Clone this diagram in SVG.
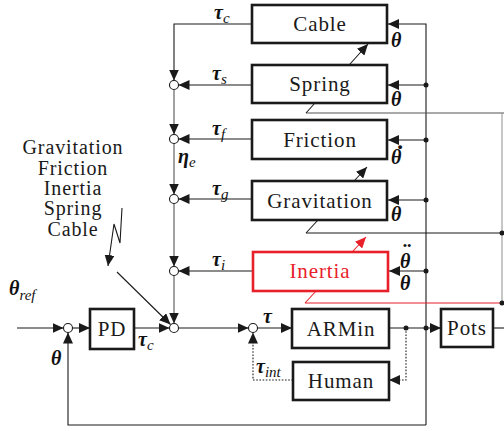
<svg xmlns="http://www.w3.org/2000/svg" width="504" height="431" viewBox="0 0 504 431">
<defs>
<marker id="ah" markerUnits="userSpaceOnUse" markerWidth="11" markerHeight="10" refX="11" refY="5" orient="auto"><path d="M0,0 L11,5 L0,10 z" fill="#1a1a1a"/></marker>
<marker id="ahr" markerUnits="userSpaceOnUse" markerWidth="11" markerHeight="10" refX="11" refY="5" orient="auto"><path d="M0,0 L11,5 L0,10 z" fill="#e8202a"/></marker>
<style>
.box{fill:#fff;stroke:#1a1a1a;stroke-width:2.6}
.red{stroke:#e8202a}
.ln{fill:none;stroke:#1a1a1a;stroke-width:1.1}
.gl{fill:none;stroke:#555;stroke-width:1.1}
.rl{fill:none;stroke:#e8202a;stroke-width:1.1}
.dot{fill:none;stroke:#1a1a1a;stroke-width:1.1;stroke-dasharray:1.6,1.6}
.sum{fill:#fff;stroke:#1a1a1a;stroke-width:1.1}
.jn{fill:#1a1a1a}
.t{font-size:21px;letter-spacing:0.9px;fill:#1a1a1a;text-anchor:middle;dominant-baseline:central}
.lt{font-size:20px;letter-spacing:0.9px;fill:#1a1a1a;text-anchor:middle}
.m{font-weight:bold;font-style:italic;font-size:20px;fill:#111}
.s{font-style:italic;font-weight:normal;font-size:15px}
.acc{font-weight:bold;font-size:26px;fill:#111;text-anchor:middle}
</style>
</defs>

<g id="connectors">
  <path class="ln" d="M252,24 H174 V80.5" marker-end="url(#ah)"/>
  <path class="ln" d="M252,85 H178.5" marker-end="url(#ah)"/>
  <path class="ln" d="M252,139 H178.5" marker-end="url(#ah)"/>
  <path class="ln" d="M252,199 H178.5" marker-end="url(#ah)"/>
  <path class="ln" d="M253,271 H178.5" marker-end="url(#ah)"/>
  <path class="gl" d="M174,89.5 V134.5" marker-end="url(#ah)"/>
  <path class="gl" d="M174,143.5 V194.5" marker-end="url(#ah)"/>
  <path class="gl" d="M174,203.5 V266.5" marker-end="url(#ah)"/>
  <path class="gl" d="M174,275.5 V323.5" marker-end="url(#ah)"/>
  <path class="ln" d="M17,328 H63.5" marker-end="url(#ah)"/>
  <path class="ln" d="M72.5,328 H90" marker-end="url(#ah)"/>
  <path class="ln" d="M134,328 H169.5" marker-end="url(#ah)"/>
  <path class="ln" d="M178.5,328 H248.5" marker-end="url(#ah)"/>
  <path class="ln" d="M257.5,328 H292" marker-end="url(#ah)"/>
  <path class="ln" d="M389,328 H441" marker-end="url(#ah)"/>
  <path class="ln" d="M493,328 H504"/>
  <path class="ln" d="M426,425 V24 H388" marker-end="url(#ah)"/>
  <path class="ln" d="M426,425 H68 V332.5" marker-end="url(#ah)"/>
  <path class="ln" d="M426,85 H388" marker-end="url(#ah)"/>
  <path class="ln" d="M426,140 H388" marker-end="url(#ah)"/>
  <path class="ln" d="M426,200 H388" marker-end="url(#ah)"/>
  <path class="ln" d="M426,271 H389" marker-end="url(#ah)"/>
  <path class="dot" d="M406,328 V380 H389" marker-end="url(#ah)"/>
  <path class="dot" d="M293,380 H253 V332.5" marker-end="url(#ah)"/>
  <path class="gl" d="M306,113 H504"/>
  <path class="ln" d="M306,113 L368,44" marker-end="url(#ah)"/>
  <path class="ln" d="M306,233 H502"/>
  <path class="ln" d="M306,233 L367,167" marker-end="url(#ah)"/>
  <path class="rl" d="M305,303 H502"/>
  <path class="rl" d="M305,303 L366,237" marker-end="url(#ahr)"/>
  <path class="gl" d="M502,113 V303" style="stroke:#999"/>
  <path class="ln" d="M117,272 L170.5,324.5" marker-end="url(#ah)"/>
  <path class="ln" d="M122,208 L120,243 L114,224 L108,266" marker-end="url(#ah)"/>
  <circle class="jn" cx="426" cy="85" r="2.5"/>
  <circle class="jn" cx="426" cy="140" r="2.5"/>
  <circle class="jn" cx="426" cy="200" r="2.5"/>
  <circle class="jn" cx="426" cy="271" r="2.5"/>
  <circle class="jn" cx="426" cy="328" r="2.5"/>
  <circle class="jn" cx="406" cy="328" r="2.5"/>
  <circle class="jn" cx="502" cy="233" r="2.5"/>
  <circle class="jn" cx="502" cy="303" r="2.5"/>
</g>

<g id="sums">
  <circle class="sum" cx="174" cy="85" r="4.5"/>
  <circle class="sum" cx="174" cy="139" r="4.5"/>
  <circle class="sum" cx="174" cy="199" r="4.5"/>
  <circle class="sum" cx="174" cy="271" r="4.5"/>
  <circle class="sum" cx="174" cy="328" r="4.5"/>
  <circle class="sum" cx="68" cy="328" r="4.5"/>
  <circle class="sum" cx="253" cy="328" r="4.5"/>
</g>

<g font-family="Liberation Serif, Times New Roman, serif">
<g id="cable"><rect class="box" x="252" y="5" width="135" height="38"/><text class="t" x="320" y="24">Cable</text></g>
<g id="spring"><rect class="box" x="252" y="65" width="135" height="38"/><text class="t" x="320" y="84">Spring</text></g>
<g id="friction"><rect class="box" x="252" y="120" width="135" height="39"/><text class="t" x="320" y="140">Friction</text></g>
<g id="gravitation"><rect class="box" x="252" y="181" width="135" height="39"/><text class="t" x="320" y="201">Gravitation</text></g>
<g id="inertia"><rect class="box red" x="253" y="252" width="135" height="39"/><text class="t" x="320" y="271" style="fill:#e8202a">Inertia</text></g>
<g id="pd"><rect class="box" x="90" y="309" width="44" height="40"/><text class="t" x="112" y="329">PD</text></g>
<g id="armin"><rect class="box" x="292" y="309" width="97" height="39"/><text class="t" x="341" y="329">ARMin</text></g>
<g id="human"><rect class="box" x="293" y="362" width="96" height="38"/><text class="t" x="341" y="381">Human</text></g>
<g id="pots"><rect class="box" x="441" y="309" width="52" height="38"/><text class="t" x="467" y="328">Pots</text></g>

<g id="legend">
  <text class="lt" x="73" y="154">Gravitation</text>
  <text class="lt" x="73" y="175">Friction</text>
  <text class="lt" x="73" y="195">Inertia</text>
  <text class="lt" x="73" y="215">Spring</text>
  <text class="lt" x="73" y="236">Cable</text>
</g>

<g id="labels">
  <text class="m" x="214" y="19">τ<tspan class="s" dy="4">c</tspan></text>
  <text class="m" x="212" y="80">τ<tspan class="s" dy="4">s</tspan></text>
  <text class="m" x="212" y="135">τ<tspan class="s" dy="4">f</tspan></text>
  <text class="m" x="212" y="195">τ<tspan class="s" dy="4">g</tspan></text>
  <text class="m" x="212" y="266">τ<tspan class="s" dy="4">i</tspan></text>
  <text class="m" x="178" y="163">η<tspan class="s" dy="4">e</tspan></text>
  <text class="m" x="391" y="47">θ</text>
  <text class="m" x="391" y="106">θ</text>
  <text class="acc" x="400" y="163">˙</text>
  <text class="m" x="391" y="164">θ</text>
  <text class="m" x="391" y="221">θ</text>
  <text class="acc" x="407" y="261">¨</text>
  <text class="m" x="400" y="268">θ</text>
  <text class="m" x="400" y="290">θ</text>
  <text class="m" x="9" y="295">θ<tspan class="s" dy="5">ref</tspan></text>
  <text class="m" x="51" y="365">θ</text>
  <text class="m" x="138" y="346">τ<tspan class="s" dy="4">c</tspan></text>
  <text class="m" x="263" y="323">τ</text>
  <text class="m" x="256" y="373">τ<tspan class="s" dy="4">int</tspan></text>
</g>
</g>
</svg>
